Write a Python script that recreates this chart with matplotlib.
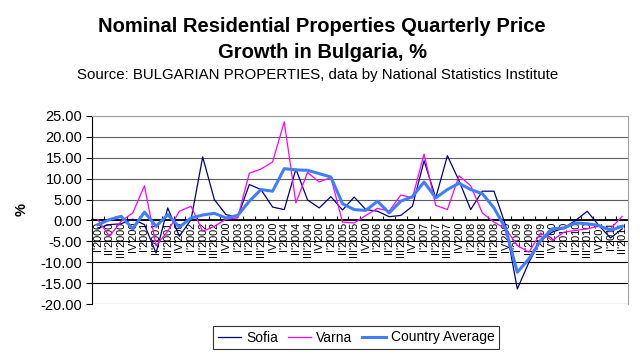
import matplotlib
matplotlib.use("Agg")
import matplotlib.pyplot as plt
import numpy as np

plt.rcParams['font.family'] = ['Liberation Sans', 'DejaVu Sans']

categories = ["I'2000", "II'2000", "III'2000", "IV'200",
              "I'2001", "II'2001", "III'2001", "IV'200",
              "I'2002", "II'2002", "III'2002", "IV'200",
              "I'2003", "II'2003", "III'2003", "IV'200",
              "I'2004", "II'2004", "III'2004", "IV'200",
              "I'2005", "II'2005", "III'2005", "IV'200",
              "I'2006", "II'2006", "III'2006", "IV'200",
              "I'2007", "II'2007", "III'2007", "IV'200",
              "I'2008", "II'2008", "III'2008", "IV'200",
              "I'2009", "II'2009", "III'2009", "IV'200",
              "I'2010", "II'2010", "III'2010", "IV'201",
              "I'2011", "II'2011"]

sofia = [-1.8, -1.0, -0.8, 0.3, -1.0, -7.8, 3.0, -3.8, 0.2, 15.2, 5.0, 1.4,
         0.8, 8.6, 7.4, 3.2, 2.6, 12.3, 4.9, 3.0, 5.7, 2.5, 5.6, 2.6,
         2.2, 0.9, 1.2, 3.4, 14.3, 5.4, 15.5, 9.5, 2.6, 7.0, 7.0, -1.2,
         -16.4, -10.0, -4.8, -2.8, -1.8, 0.0, 2.2, -1.2, -4.2, -2.0]

varna = [0.2, -3.8, -0.2, 1.8, 8.3, -6.0, -2.6, 2.2, 3.4, -2.6, -1.4, 0.3,
         0.6, 11.3, 12.3, 14.0, 23.6, 4.2, 11.5, 9.2, 10.3, -0.4, -0.6, 1.2,
         2.9, 2.2, 6.1, 5.4, 15.9, 3.6, 2.6, 10.7, 8.3, 1.8, -0.4, -2.0,
         -6.0, -7.6, -3.0, -4.8, -2.8, -2.4, -2.0, -1.4, -2.0, 1.0]

country = [-1.0, 0.2, 1.0, -2.0, 2.0, -1.4, 1.4, -1.6, 0.6, 1.3, 1.7, 0.6,
           1.2, 4.6, 7.4, 7.0, 12.4, 12.1, 12.0, 11.2, 10.4, 4.0, 2.6, 2.4,
           4.6, 1.8, 4.6, 5.7, 9.2, 5.4, 7.4, 8.9, 7.4, 6.4, 3.0, -2.0,
           -12.4, -9.2, -4.8, -2.0, -1.8, -0.6, -0.8, -1.2, -2.4, -1.4]

yticks = [-20, -15, -10, -5, 0, 5, 10, 15, 20, 25]

fig = plt.figure(figsize=(6.4, 3.55), dpi=100)
ax = fig.add_axes([92/640, 1-304/355, (628-92)/640, (304-116)/355])

x = np.arange(len(categories))
ax.plot(x, sofia, color='#000080', lw=0.9, label='Sofia', zorder=3)
ax.plot(x, varna, color='#ff00ff', lw=0.9, label='Varna', zorder=3)
ax.plot(x, country, color='#3f7fff', lw=2.2, label='Country Average', zorder=4)

ax.set_xlim(-0.5, len(categories)-0.5)
ax.set_ylim(-20, 25)
ax.set_yticks(yticks)
ax.set_yticklabels([f"{v:.2f}" for v in yticks], fontsize=10.5)
for v in yticks:
    ax.axhline(v, color='#000000' if v < 0 else '#606060', lw=0.8, zorder=1)

ax.spines['bottom'].set_position(('data', 0))
ax.spines['bottom'].set_linewidth(1.3)
ax.spines['bottom'].set_zorder(2)
ax.spines['left'].set_color('black')
ax.spines['top'].set_color('#a0a0a0')
ax.spines['right'].set_color('#a0a0a0')

ax.set_xticks(x)
ax.set_xticklabels(categories, rotation=90, fontsize=7.8, va='top', ha='center')
ax.tick_params(axis='x', which='major', length=0, pad=1)
ax.set_xticks(np.arange(len(categories)+1)-0.5, minor=True)
ax.tick_params(axis='x', which='minor', direction='in', length=3, width=0.8)
ax.tick_params(axis='y', direction='out', length=4, width=0.8, pad=3)

fig.text(322/640, 1-26/355, "Nominal Residential Properties Quarterly Price",
         ha='center', va='center', fontsize=14.5, fontweight='bold')
fig.text(322/640, 1-52/355, "Growth in Bulgaria, %",
         ha='center', va='center', fontsize=14.5, fontweight='bold')
fig.text(318/640, 1-75/355, "Source: BULGARIAN PROPERTIES, data by National Statistics Institute",
         ha='center', va='center', fontsize=10.8)
fig.text(22/640, 1-210/355, "%", rotation=90, ha='center', va='center',
         fontsize=10.5, fontweight='bold')

leg = fig.legend(loc='center', bbox_to_anchor=(356/640, 1-337.5/355), ncol=3,
                 fontsize=10, frameon=True, fancybox=False, edgecolor='black',
                 handlelength=1.7, columnspacing=0.7, handletextpad=0.35,
                 borderpad=0.3, borderaxespad=0)
leg.get_frame().set_linewidth(0.8)

fig.savefig('out.png', dpi=100, facecolor='white')
